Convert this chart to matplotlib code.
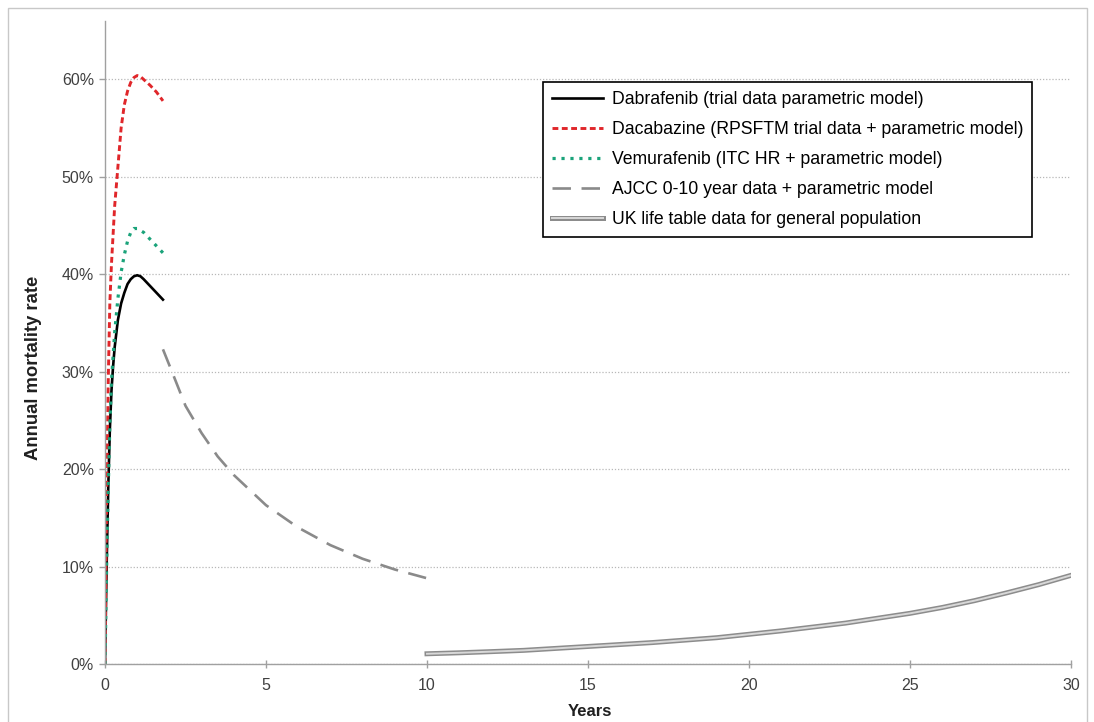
import matplotlib
matplotlib.use("Agg")
import matplotlib.pyplot as plt
import matplotlib.patheffects as pe
from matplotlib.patches import Rectangle
from matplotlib.ticker import FuncFormatter

plt.rcParams['font.family'] = ['Liberation Sans', 'DejaVu Sans']

# ---- data ----
dab_x = [0, 0.05, 0.1, 0.15, 0.2, 0.25, 0.3, 0.4, 0.5, 0.6, 0.7, 0.8, 0.9, 1.0, 1.1, 1.2, 1.4, 1.6, 1.8]
dab_y = [0, 0.10, 0.18, 0.24, 0.28, 0.305, 0.325, 0.353, 0.370, 0.381, 0.390, 0.395, 0.398, 0.399,
         0.398, 0.395, 0.388, 0.381, 0.374]

dac_x = [0, 0.05, 0.1, 0.15, 0.2, 0.3, 0.4, 0.5, 0.6, 0.7, 0.8, 0.9, 1.0, 1.1, 1.2, 1.4, 1.6, 1.8]
dac_y = [0, 0.17, 0.29, 0.37, 0.41, 0.47, 0.51, 0.55, 0.574, 0.588, 0.597, 0.602, 0.604, 0.603,
         0.600, 0.594, 0.587, 0.578]

vem_x = [0, 0.05, 0.1, 0.15, 0.2, 0.3, 0.4, 0.5, 0.6, 0.7, 0.8, 0.9, 1.0, 1.2, 1.4, 1.6, 1.8]
vem_y = [0, 0.10, 0.18, 0.245, 0.29, 0.34, 0.375, 0.402, 0.420, 0.434, 0.443, 0.447, 0.447,
         0.443, 0.436, 0.429, 0.422]

ajcc_x = [1.8, 2.08, 2.5, 3, 3.5, 4, 5, 6, 7, 8, 9, 10]
ajcc_y = [0.323, 0.300, 0.265, 0.237, 0.213, 0.194, 0.163, 0.140, 0.122, 0.108, 0.097, 0.088]

uk_x = list(range(10, 31))
uk_y = [0.0105, 0.0115, 0.0127, 0.014, 0.016, 0.018, 0.020, 0.022, 0.0245, 0.027, 0.0305,
        0.034, 0.038, 0.042, 0.047, 0.052, 0.058, 0.065, 0.073, 0.0815, 0.091]

labels = [
    "Dabrafenib (trial data parametric model)",
    "Dacabazine (RPSFTM trial data + parametric model)",
    "Vemurafenib (ITC HR + parametric model)",
    "AJCC 0-10 year data + parametric model",
    "UK life table data for general population",
]
y_ticks = [0, 0.1, 0.2, 0.3, 0.4, 0.5, 0.6]
x_ticks = [0, 5, 10, 15, 20, 25, 30]

# ---- figure ----
fig = plt.figure(figsize=(10.94, 7.22), dpi=100)
ax = fig.add_axes([105/1094, 1 - 664/722, (1071-105)/1094, (664-21)/722])

# outer border
fig.patches.append(Rectangle((8/1094, -0.05), (1087-8)/1094, 1.05 - 8/722,
                             transform=fig.transFigure, fill=False,
                             edgecolor='#c8c8c8', linewidth=1.0))

ax.plot(dab_x, dab_y, color='black', lw=1.9, label=labels[0])
ax.plot(dac_x, dac_y, color='#e0262a', lw=2.1, ls=(0, (2.0, 1.2)), label=labels[1])
ax.plot(vem_x, vem_y, color='#1aa37a', lw=2.3, ls=(0, (1.0, 1.8)), label=labels[2])
ax.plot(ajcc_x, ajcc_y, color='#8a8a8a', lw=1.9, ls=(0, (7, 4)), label=labels[3])
ax.plot(uk_x, uk_y, color='#d8d8d8', lw=1.4, label=labels[4],
        path_effects=[pe.Stroke(linewidth=3.6, foreground='#8c8c8c'), pe.Normal()])

ax.set_xlim(0, 30)
ax.set_ylim(0, 0.66)
ax.set_xticks(x_ticks)
ax.set_yticks(y_ticks)
ax.yaxis.set_major_formatter(FuncFormatter(lambda v, p: f"{v*100:.0f}%"))

ax.grid(axis='y', color='#b8b8b8', ls=(0, (1, 1.5)), lw=0.9)
ax.set_axisbelow(True)
for s in ['top', 'right']:
    ax.spines[s].set_visible(False)
for s in ['left', 'bottom']:
    ax.spines[s].set_color('#a0a0a0')
    ax.spines[s].set_linewidth(1.0)
ax.tick_params(axis='both', colors='#a0a0a0', labelcolor='#404040', labelsize=11.5,
               length=4, width=1.0)
ax.tick_params(axis='y', pad=4)
ax.tick_params(axis='x', direction='inout', length=6, pad=7)

ax.set_xlabel("Years", fontsize=12, fontweight='bold', color='#202020')
ax.xaxis.set_label_coords((590-105)/966, -(711-664)/643)
ax.set_ylabel("Annual mortality rate", fontsize=13.3, fontweight='bold', color='#202020')
ax.yaxis.set_label_coords((34-105)/966, (664-368)/643)
ax.xaxis.label.set_va('center')
ax.yaxis.label.set_va('center')

leg = ax.legend(loc='upper left', bbox_to_anchor=((543-105)/966, (664-82)/643),
                fontsize=12.7, frameon=True, fancybox=False, edgecolor='black',
                framealpha=1, handlelength=2.9, handletextpad=0.5, labelspacing=0.74,
                borderpad=0.5, borderaxespad=0)
leg.get_frame().set_linewidth(1.2)

fig.savefig("out.png", dpi=100)
